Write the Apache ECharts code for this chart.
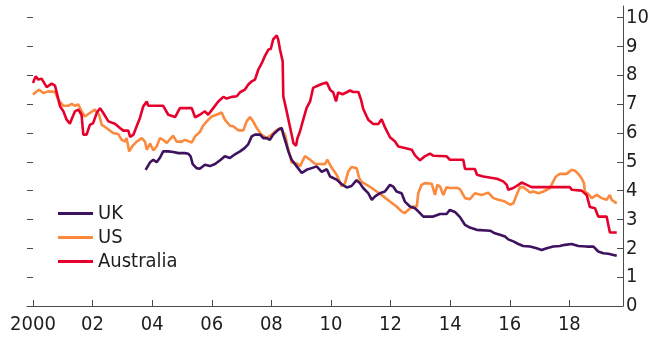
<!DOCTYPE html>
<html>
<head>
<meta charset="utf-8">
<script src="https://cdn.jsdelivr.net/npm/echarts@6/dist/echarts.min.js"></script>
<style>
  html, body { margin: 0; padding: 0; background: #fff; }
  #chart { width: 652px; height: 337px; }
</style>
</head>
<body>
<div id="chart"></div>
<script>
// Mortgage rates, per cent (x = decimal year)
const seriesNames = ['UK', 'US', 'Australia'];
const seriesColors = ['#3f1260', '#fb8a3e', '#e6002c'];

const ukYears = [2003.78,2003.93,2004.04,2004.15,2004.26,2004.37,2004.43,2004.54,2004.71,2004.88,2005.10,2005.21,2005.29,2005.36,2005.49,2005.60,2005.77,2005.94,2006.11,2006.28,2006.44,2006.61,2006.78,2006.95,2007.11,2007.22,2007.34,2007.45,2007.62,2007.73,2007.84,2007.95,2008.06,2008.23,2008.35,2008.40,2008.49,2008.57,2008.68,2008.85,2009.02,2009.18,2009.35,2009.52,2009.69,2009.86,2009.97,2010.19,2010.36,2010.53,2010.69,2010.86,2010.97,2011.08,2011.25,2011.37,2011.48,2011.64,2011.81,2011.98,2012.09,2012.20,2012.37,2012.48,2012.65,2012.82,2012.93,2013.10,2013.43,2013.66,2013.88,2013.99,2014.16,2014.33,2014.50,2014.66,2014.89,2015.34,2015.50,2015.67,2015.84,2015.95,2016.12,2016.29,2016.45,2016.68,2016.90,2017.07,2017.24,2017.46,2017.68,2017.85,2018.08,2018.30,2018.58,2018.81,2018.97,2019.14,2019.31,2019.48,2019.59];
const ukRates = [4.72,4.98,5.07,4.98,5.14,5.36,5.40,5.36,5.34,5.30,5.30,5.28,5.19,4.92,4.78,4.76,4.90,4.85,4.92,5.05,5.19,5.13,5.26,5.36,5.48,5.60,5.88,5.94,5.94,5.82,5.82,5.76,5.94,6.11,6.17,5.94,5.65,5.36,5.07,4.84,4.61,4.72,4.78,4.84,4.65,4.74,4.49,4.38,4.22,4.11,4.16,4.36,4.26,4.09,3.91,3.68,3.80,3.91,3.97,4.20,4.14,3.97,3.91,3.62,3.45,3.39,3.28,3.10,3.10,3.19,3.19,3.33,3.26,3.08,2.81,2.72,2.64,2.61,2.52,2.47,2.41,2.31,2.24,2.15,2.08,2.06,2.00,1.94,2.00,2.06,2.08,2.12,2.15,2.08,2.06,2.06,1.89,1.83,1.81,1.77,1.74];

const usYears = [2000.00,2000.09,2000.21,2000.35,2000.51,2000.74,2000.85,2001.02,2001.18,2001.30,2001.41,2001.52,2001.63,2001.74,2001.91,2002.08,2002.22,2002.31,2002.47,2002.69,2002.86,2002.98,2003.09,2003.14,2003.23,2003.35,2003.48,2003.65,2003.76,2003.82,2003.93,2004.04,2004.15,2004.26,2004.37,2004.49,2004.60,2004.71,2004.82,2004.99,2005.10,2005.33,2005.44,2005.60,2005.71,2005.83,2006.00,2006.16,2006.33,2006.44,2006.61,2006.72,2006.89,2007.06,2007.17,2007.28,2007.39,2007.51,2007.67,2007.84,2008.01,2008.12,2008.29,2008.46,2008.57,2008.68,2008.85,2008.96,2009.13,2009.30,2009.46,2009.80,2009.88,2010.02,2010.19,2010.36,2010.47,2010.58,2010.69,2010.86,2010.95,2011.03,2011.20,2011.37,2011.53,2011.76,2011.98,2012.20,2012.37,2012.48,2012.59,2012.76,2012.88,2012.93,2013.04,2013.15,2013.38,2013.49,2013.57,2013.66,2013.77,2013.88,2013.99,2014.22,2014.33,2014.50,2014.66,2014.83,2015.06,2015.28,2015.45,2015.62,2015.84,2016.01,2016.12,2016.23,2016.34,2016.45,2016.57,2016.68,2016.79,2016.96,2017.13,2017.35,2017.46,2017.55,2017.68,2017.91,2018.08,2018.19,2018.30,2018.41,2018.49,2018.52,2018.63,2018.75,2018.92,2019.08,2019.25,2019.36,2019.42,2019.59];
const usRates = [7.33,7.41,7.50,7.38,7.44,7.42,7.15,6.94,6.94,7.01,6.94,6.99,6.75,6.57,6.69,6.81,6.63,6.28,6.17,6.00,5.96,5.76,5.70,5.82,5.36,5.56,5.70,5.82,5.70,5.42,5.63,5.39,5.53,5.82,5.76,5.65,5.79,5.90,5.70,5.70,5.76,5.67,5.88,6.03,6.25,6.40,6.57,6.63,6.71,6.46,6.25,6.23,6.09,6.09,6.40,6.55,6.40,6.17,5.94,5.82,5.94,6.05,6.17,5.94,5.42,4.98,4.95,4.84,5.20,5.07,4.93,4.92,5.07,4.80,4.55,4.15,4.26,4.66,4.82,4.78,4.43,4.30,4.20,4.09,3.97,3.80,3.62,3.45,3.28,3.22,3.33,3.45,3.45,3.91,4.20,4.26,4.24,3.85,4.20,4.14,3.85,4.12,4.09,4.10,4.05,3.74,3.70,3.91,3.85,3.93,3.74,3.68,3.62,3.51,3.56,3.85,4.12,4.12,4.03,3.93,3.97,3.91,3.97,4.09,4.32,4.49,4.58,4.58,4.72,4.69,4.58,4.43,4.26,3.97,3.89,3.74,3.85,3.74,3.68,3.85,3.68,3.56];

const ausYears = [2000.00,2000.09,2000.18,2000.29,2000.46,2000.63,2000.74,2000.91,2001.02,2001.13,2001.24,2001.30,2001.41,2001.52,2001.63,2001.69,2001.80,2001.91,2002.02,2002.14,2002.25,2002.36,2002.53,2002.75,2002.92,2003.03,2003.20,2003.26,2003.37,2003.48,2003.59,2003.70,2003.82,2003.87,2004.37,2004.54,2004.77,2004.93,2005.33,2005.44,2005.60,2005.77,2005.88,2006.05,2006.22,2006.39,2006.50,2006.67,2006.84,2006.95,2007.11,2007.22,2007.34,2007.45,2007.56,2007.67,2007.79,2007.90,2007.98,2008.06,2008.18,2008.23,2008.29,2008.38,2008.40,2008.49,2008.62,2008.74,2008.83,2008.87,2008.96,2009.07,2009.18,2009.30,2009.40,2009.52,2009.63,2009.74,2009.86,2009.97,2010.08,2010.17,2010.24,2010.39,2010.53,2010.64,2010.75,2010.92,2011.01,2011.08,2011.20,2011.25,2011.42,2011.59,2011.70,2011.81,2011.98,2012.15,2012.26,2012.48,2012.71,2012.82,2012.99,2013.15,2013.32,2013.43,2013.88,2013.99,2014.44,2014.50,2014.83,2014.90,2015.11,2015.17,2015.57,2015.78,2015.90,2015.95,2016.12,2016.29,2016.40,2016.57,2016.73,2018.02,2018.08,2018.41,2018.58,2018.69,2018.86,2018.97,2019.25,2019.36,2019.59];
const ausRates = [7.73,7.96,7.85,7.88,7.59,7.71,7.64,6.92,6.75,6.46,6.32,6.48,6.75,6.81,6.63,5.94,5.94,6.28,6.34,6.69,6.86,6.69,6.40,6.32,6.17,6.08,6.08,5.86,5.94,6.23,6.52,6.92,7.09,6.94,6.94,6.63,6.55,6.86,6.86,6.54,6.63,6.75,6.63,6.86,7.09,7.25,7.19,7.25,7.27,7.41,7.50,7.67,7.79,7.85,8.19,8.40,8.68,8.89,8.91,9.24,9.38,9.24,8.89,8.48,7.27,6.86,6.23,5.65,5.55,5.80,6.05,6.46,6.86,7.09,7.56,7.62,7.67,7.71,7.75,7.50,7.40,7.09,7.40,7.34,7.41,7.47,7.42,7.42,7.15,6.84,6.57,6.46,6.31,6.31,6.47,6.20,5.85,5.70,5.53,5.48,5.42,5.22,5.05,5.19,5.28,5.21,5.19,5.07,5.07,4.75,4.75,4.55,4.49,4.43,4.41,4.32,4.20,4.03,4.09,4.20,4.28,4.20,4.12,4.12,4.03,4.00,3.85,3.43,3.39,3.10,3.10,2.55,2.55];

// Axis ticks
const yTicks = [0, 1, 2, 3, 4, 5, 6, 7, 8, 9, 10];
const xTicks = [2000, 2002, 2004, 2006, 2008, 2010, 2012, 2014, 2016, 2018];
const xTickLabels = ['2000', '02', '04', '06', '08', '10', '12', '14', '16', '18'];

const zip = (xs, ys) => xs.map((x, i) => [x, ys[i]]);
const allData = [zip(ukYears, ukRates), zip(usYears, usRates), zip(ausYears, ausRates)];

const FONT = "'Liberation Sans Narrow', 'Arial Narrow', 'DejaVu Sans Condensed', sans-serif";
const FONT_SIZE = 20;
const AXIS = '#4a4a4a';
const TEXT = '#1e1e1e';

const chart = echarts.init(document.getElementById('chart'), null, { renderer: 'canvas' });

chart.setOption({
  animation: false,
  backgroundColor: '#ffffff',
  grid: { left: 27, right: 29, top: 6, bottom: 31, containLabel: false },
  legend: {
    orient: 'vertical',
    left: 58,
    top: 203,
    padding: 0,
    itemWidth: 35,
    itemHeight: 3,
    itemGap: 3,
    icon: 'rect',
    textStyle: { fontFamily: FONT, fontSize: FONT_SIZE, color: TEXT, lineHeight: 21 },
    data: seriesNames
  },
  xAxis: {
    type: 'value',
    min: 1999.8,
    max: 2019.8,
    splitLine: { show: false },
    axisLine: { show: true, lineStyle: { color: AXIS, width: 1 } },
    axisTick: { show: true, inside: true, length: 6, lineStyle: { color: AXIS }, customValues: xTicks },
    axisLabel: {
      customValues: xTicks,
      margin: 9,
      fontFamily: FONT, fontSize: FONT_SIZE, color: TEXT,
      formatter: v => xTickLabels[xTicks.indexOf(Math.round(v))]
    }
  },
  yAxis: [
    {
      type: 'value',
      position: 'right',
      min: 0,
      max: 10.4,
      splitLine: { show: false },
      axisLine: { show: true, lineStyle: { color: AXIS, width: 1 } },
      axisTick: { show: true, inside: true, length: 6, lineStyle: { color: AXIS }, customValues: yTicks },
      axisLabel: { customValues: yTicks, margin: 3, fontFamily: FONT, fontSize: FONT_SIZE, color: TEXT }
    },
    {
      type: 'value',
      position: 'left',
      min: 0,
      max: 10.4,
      splitLine: { show: false },
      axisLine: { show: false },
      axisTick: { show: true, inside: true, length: 6, lineStyle: { color: AXIS }, customValues: yTicks },
      axisLabel: { show: false }
    }
  ],
  series: seriesNames.map((name, i) => ({
    name,
    type: 'line',
    yAxisIndex: 0,
    data: allData[i],
    showSymbol: false,
    symbol: 'none',
    color: seriesColors[i],
    lineStyle: { width: 2.6, color: seriesColors[i] },
    z: i === 2 ? 3 : (i === 0 ? 4 : 2)
  }))
});
</script>
</body>
</html>
